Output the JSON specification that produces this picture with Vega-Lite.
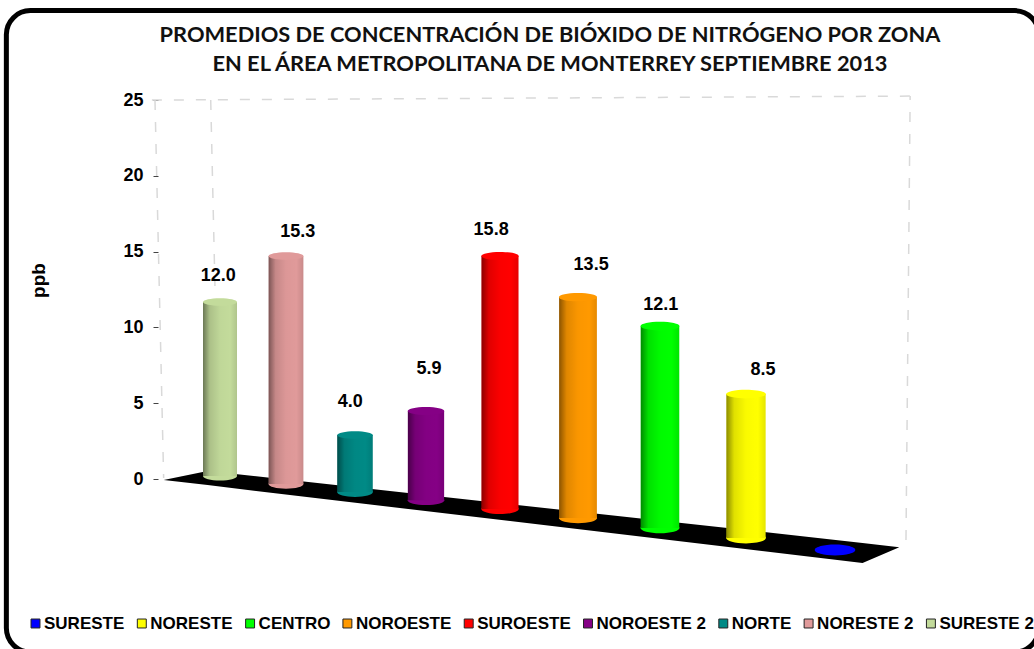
{
"$schema":"https://vega.github.io/schema/vega-lite/v6.json",
"width":1034,"height":649,"padding":0,"autosize":{"type":"none"},
"background":"white",
"config":{"view":{"stroke":null},"font":"Liberation Sans"},
"title":{"text":["PROMEDIOS DE CONCENTRACIÓN DE BIÓXIDO DE NITRÓGENO POR ZONA","EN EL ÁREA METROPOLITANA DE MONTERREY  SEPTIEMBRE 2013   "],"font":"Lato","fontSize":21.8,"fontWeight":"bold","color":"#111","anchor":"start","align":"center","frame":"group","dx":550,"offset":-76,"lineHeight":29},
"datasets":{
"zonas":[
{"zona":"SURESTE 2","orden":1,"valor":12.0,"tope":11.68,"base":0.2,"etq_x":0.97,"etq_y":13.39},
{"zona":"NORESTE 2","orden":2,"valor":15.3,"tope":14.71,"base":-0.33,"etq_x":2.17,"etq_y":16.29},
{"zona":"NORTE","orden":3,"valor":4.0,"tope":2.9,"base":-0.86,"etq_x":2.93,"etq_y":5.08},
{"zona":"NOROESTE 2","orden":4,"valor":5.9,"tope":4.49,"base":-1.39,"etq_x":4.04,"etq_y":7.26},
{"zona":"SUROESTE","orden":5,"valor":15.8,"tope":14.71,"base":-1.98,"etq_x":4.88,"etq_y":16.42},
{"zona":"NOROESTE","orden":6,"valor":13.5,"tope":12.0,"base":-2.57,"etq_x":6.16,"etq_y":14.12},
{"zona":"CENTRO","orden":7,"valor":12.1,"tope":10.09,"base":-3.23,"etq_x":7.01,"etq_y":11.48},
{"zona":"NORESTE","orden":8,"valor":8.5,"tope":5.61,"base":-3.89,"etq_x":8.19,"etq_y":7.19},
{"zona":"SURESTE","orden":9,"valor":null,"tope":-4.68,"base":-4.68,"etq_x":null,"etq_y":null}
]},
"data":{"name":"zonas"},
"resolve":{"scale":{"size":"independent"}},
"layer":[
{"data":{"values":[{"x1":-2.45,"x2":11.44,"y1":30.9,"y2":-11.41}]},
 "mark":{"type":"rect","fill":"transparent","stroke":"#000","strokeWidth":5,"cornerRadius":24},
 "encoding":{
  "x":{"field":"x1","type":"quantitative","axis":null,"scale":{"type":"linear","domain":[0,1,2,3,4,5,6,7,8,9,10],"range":[154,220,286,355,426,500,578,660,746,835,924],"nice":false,"zero":false}},
  "x2":{"field":"x2"},
  "y":{"field":"y1","type":"quantitative","title":"ppb","scale":{"domain":[-11.21,31.6],"nice":false,"zero":false},
   "axis":{"values":[0,5,10,15,20,25],"offset":-158,"grid":false,"domain":false,"tickSize":5,"tickColor":"#444","labelPadding":10,"labelFont":"Liberation Sans","labelFontWeight":"bold","labelFontSize":18,"labelColor":"#000","titleFont":"Liberation Sans","titleFontWeight":"bold","titleFontSize":19,"titleColor":"#000","titleX":-110,"titleY":280,"titleAngle":270}},
  "y2":{"field":"y2"}}},
{"data":{"values":[
  {"tramo":"a","px":-0.05,"py":25},{"tramo":"a","px":0.09,"py":0.07},
  {"tramo":"b","px":0.85,"py":25},{"tramo":"b","px":0.92,"py":12.47},
  {"tramo":"c","px":-0.1,"py":25},{"tramo":"c","px":9.9,"py":25.26},
  {"tramo":"d","px":9.85,"py":-4.02},{"tramo":"d","px":9.9,"py":25.26}]},
 "mark":{"type":"line","stroke":"#d9d9d9","strokeWidth":1.5,"strokeDash":[10,12]},
 "encoding":{"x":{"field":"px","type":"quantitative"},"y":{"field":"py","type":"quantitative"},"detail":{"field":"tramo"}}},
{"data":{"values":[
  {"px":0.09,"sup":-0.07,"inf":-0.07},{"px":0.8,"sup":0.53,"inf":-0.4},
  {"px":9.33,"sup":-4.21,"inf":-5.54},{"px":9.77,"sup":-4.49,"inf":-4.49}]},
 "mark":{"type":"area","fill":"#000","orient":"vertical"},
 "encoding":{"x":{"field":"px","type":"quantitative"},"y":{"field":"sup","type":"quantitative"},"y2":{"field":"inf"}}},
{"mark":{"type":"point","filled":true,"opacity":1,"shape":"M-1,0A1,0.27 0 1 0 1,0A1,0.27 0 1 0 -1,0Z"},
 "encoding":{"x":{"field":"orden","type":"quantitative"},"y":{"field":"base","type":"quantitative"},
  "size":{"field":"orden","type":"quantitative","legend":null,"scale":{"domain":[1,9],"range":[1156,1640],"zero":false}},
  "color":{"field":"zona","type":"nominal"}}},
{"mark":{"type":"bar"},
 "encoding":{"x":{"field":"orden","type":"quantitative"},"y":{"field":"tope","type":"quantitative"},"y2":{"field":"base"},
  "size":{"field":"orden","type":"quantitative","legend":null,"scale":{"domain":[1,9],"range":[34,40],"zero":false}},
  "color":{"field":"zona","type":"nominal","title":null,
   "scale":{"domain":["SURESTE","NORESTE","CENTRO","NOROESTE","SUROESTE","NOROESTE 2","NORTE","NORESTE 2","SURESTE 2"],"range":["#0000FF","#FFFF00","#00FF00","#FF9900","#FF0000","#850085","#008A86","#E09A9A","#C3DB9B"]},
   "legend":{"orient":"none","legendX":27,"legendY":615,"direction":"horizontal","columns":9,"gridAlign":"none","columnPadding":8.3,"symbolType":"square","symbolSize":80,"symbolStrokeColor":"#222","symbolStrokeWidth":1,"labelFont":"Liberation Sans","labelFontWeight":"bold","labelFontSize":17,"labelColor":"#000","labelOffset":0,"labelLimit":200,"symbolOpacity":1}}}},
{"mark":{"type":"bar","fill":{"gradient":"linear","x1":0,"x2":1,"y1":0,"y2":0,"stops":[{"offset":0,"color":"rgba(0,0,0,0.45)"},{"offset":0.2,"color":"rgba(0,0,0,0.12)"},{"offset":0.5,"color":"rgba(0,0,0,0.02)"},{"offset":0.8,"color":"rgba(0,0,0,0)"},{"offset":1,"color":"rgba(0,0,0,0.1)"}]}},
 "encoding":{"x":{"field":"orden","type":"quantitative"},"y":{"field":"tope","type":"quantitative"},"y2":{"field":"base"},
  "size":{"field":"orden","type":"quantitative","legend":null,"scale":{"domain":[1,9],"range":[34,40],"zero":false}}}},
{"mark":{"type":"point","filled":true,"opacity":1,"shape":"M-1,0A1,0.22 0 1 0 1,0A1,0.22 0 1 0 -1,0Z"},
 "encoding":{"x":{"field":"orden","type":"quantitative"},"y":{"field":"tope","type":"quantitative"},
  "size":{"field":"orden","type":"quantitative","legend":null,"scale":{"domain":[1,9],"range":[1156,1640],"zero":false}},
  "color":{"field":"zona","type":"nominal"}}},
{"transform":[{"filter":"datum.valor != null"}],
 "mark":{"type":"text","font":"Liberation Sans","fontWeight":"bold","fontSize":18,"color":"#000","align":"center","baseline":"middle"},
 "encoding":{"x":{"field":"etq_x","type":"quantitative"},"y":{"field":"etq_y","type":"quantitative"},
  "text":{"field":"valor","type":"quantitative","format":".1f"}}}
]}
